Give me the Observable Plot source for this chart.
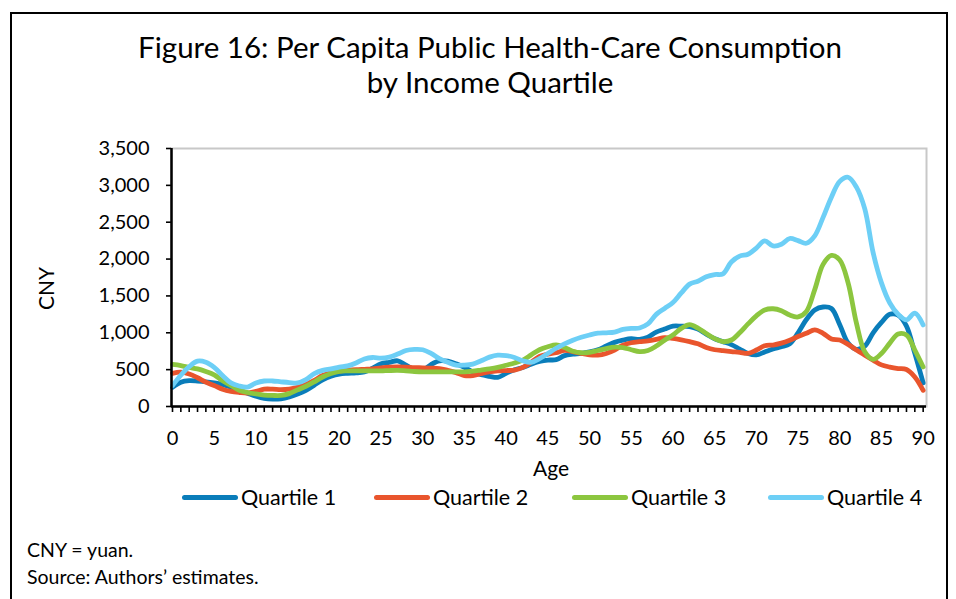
<!DOCTYPE html>
<html><head><meta charset="utf-8">
<script src="https://cdn.jsdelivr.net/npm/d3@7"></script>
<script src="https://cdn.jsdelivr.net/npm/@observablehq/plot@0.6"></script>
<style>
body{margin:0;background:#fff;}
#wrap{position:relative;width:956px;height:599px;overflow:hidden;font-family:Lato,"Noto Sans",sans-serif;color:#000;background:#fff;}
#border{position:absolute;left:10px;top:12px;width:938px;height:700px;border:2px solid #000;box-sizing:border-box;}
#title{position:absolute;left:40px;width:900px;top:29px;text-align:center;font-size:29.5px;line-height:35px;}
#chart{position:absolute;left:0;top:0;}
.lab{position:absolute;font-size:21px;white-space:nowrap;}
.leg{position:absolute;top:484px;height:26px;display:flex;align-items:center;font-size:21.5px;white-space:nowrap;}
.leg span.sw{display:inline-block;width:56px;height:5px;border-radius:3px;margin-right:3px;}
.foot{position:absolute;left:27px;font-size:19.5px;white-space:nowrap;}
</style></head>
<body>
<div id="wrap">
<div id="border"></div>
<div id="title">Figure 16: Per Capita Public Health-Care Consumption<br>by Income Quartile</div>
<div id="chart"></div>
<div class="lab" id="ylab" style="left:24px;top:276px;transform:rotate(-90deg);transform-origin:center;">CNY</div>
<div class="lab" style="left:533px;top:455px;">Age</div>
<div id="legend"></div>
<div class="foot" style="top:538px;">CNY = yuan.</div>
<div class="foot" style="top:565px;">Source: Authors’ estimates.</div>
</div>
<script>
const ages = d3.range(0, 91);
const seriesNames = ["Quartile 1", "Quartile 2", "Quartile 3", "Quartile 4"];
const seriesColors = ["#0a7dba", "#e9552d", "#8cc63f", "#6dcff6"];
const q1 = [260,330,350,345,335,320,300,260,220,180,140,110,100,105,130,170,220,290,360,410,440,450,455,470,520,580,600,620,560,500,490,570,620,615,580,530,470,430,410,395,450,500,530,575,610,630,635,690,710,720,740,770,820,870,900,920,910,940,1010,1050,1090,1090,1085,1050,980,920,880,840,780,720,700,740,780,810,850,1000,1180,1310,1350,1330,1110,860,775,820,1000,1140,1250,1240,1090,720,320];
const q2 = [450,465,440,390,330,285,235,205,190,182,205,235,235,228,235,260,300,355,420,460,480,492,500,505,510,525,535,538,535,528,525,520,515,490,460,420,420,447,470,483,488,492,530,600,680,710,730,760,745,720,700,697,720,766,830,865,880,890,910,935,925,905,880,850,800,770,757,745,735,720,766,825,834,860,900,950,993,1040,993,916,902,843,766,697,630,565,535,515,502,401,219];
const q3 = [570,555,530,510,475,430,350,287,220,190,170,155,150,150,175,225,275,335,400,447,478,483,483,483,483,483,488,490,483,475,470,470,470,470,470,470,480,495,510,530,560,590,630,700,770,810,834,800,750,729,735,760,785,805,800,770,745,760,820,900,970,1060,1110,1062,990,920,880,902,1000,1120,1230,1310,1326,1300,1240,1215,1290,1586,1928,2050,1987,1677,1130,742,640,720,860,984,970,766,537];
const q4 = [285,424,540,615,600,530,420,320,278,264,319,346,346,335,325,320,365,447,490,510,535,550,590,645,665,655,670,711,760,775,770,720,650,600,561,561,575,620,670,697,690,665,620,600,650,720,790,850,900,940,970,994,1000,1010,1045,1060,1065,1120,1250,1330,1410,1540,1660,1700,1760,1790,1800,1960,2040,2065,2150,2247,2178,2200,2279,2250,2215,2315,2566,2840,3054,3110,2976,2680,2087,1677,1404,1250,1176,1267,1107];
const yTicks = [0,500,1000,1500,2000,2500,3000,3500];
const xTicks = d3.range(0, 91, 5);

const allSeries = [q1, q2, q3, q4];
const rows = [];
allSeries.forEach((s, i) => s.forEach((v, j) => rows.push({age: ages[j], value: v, series: seriesNames[i]})));

const plot = Plot.plot({
  width: 956,
  height: 480,
  marginTop: 148,
  marginBottom: 74,
  marginLeft: 171,
  marginRight: 30,
  style: {fontFamily: "Lato, 'Noto Sans', sans-serif", fontSize: "20px", color: "#000", background: "transparent"},
  x: {domain: [-0.12, 90.4]},
  y: {domain: [0, 3500]},
  color: {domain: seriesNames, range: seriesColors},
  marks: [
    Plot.frame({stroke: "#c8c8c8", strokeWidth: 2}),
    Plot.axisX({ticks: ages, tickSize: 6, tickFormat: () => "", stroke: "#000", strokeWidth: 1.6, label: null}),
    Plot.axisX({ticks: xTicks, tickSize: 0, tickPadding: 24, tickFormat: d => d, label: null, fontSize: 20}),
    Plot.axisY({ticks: yTicks, tickSize: 5, tickPadding: 17, tickFormat: d3.format(","), label: null, stroke: "#000", strokeWidth: 1.6, fontSize: 20}),
    Plot.line(rows, {x: "age", y: "value", z: "series", stroke: "series", strokeWidth: 4.8, curve: "catmull-rom"}),
    Plot.ruleX([-0.12], {stroke: "#000", strokeWidth: 2.5}),
    Plot.ruleY([0], {stroke: "#000", strokeWidth: 2.5})
  ]
});
document.getElementById("chart").appendChild(plot);

const legendPos = [182, 374, 572, 768];
const legend = document.getElementById("legend");
seriesNames.forEach((n, i) => {
  const d = document.createElement("div");
  d.className = "leg";
  d.style.left = legendPos[i] + "px";
  d.innerHTML = `<span class="sw" style="background:${seriesColors[i]}"></span>${n}`;
  legend.appendChild(d);
});
</script>
</body></html>
